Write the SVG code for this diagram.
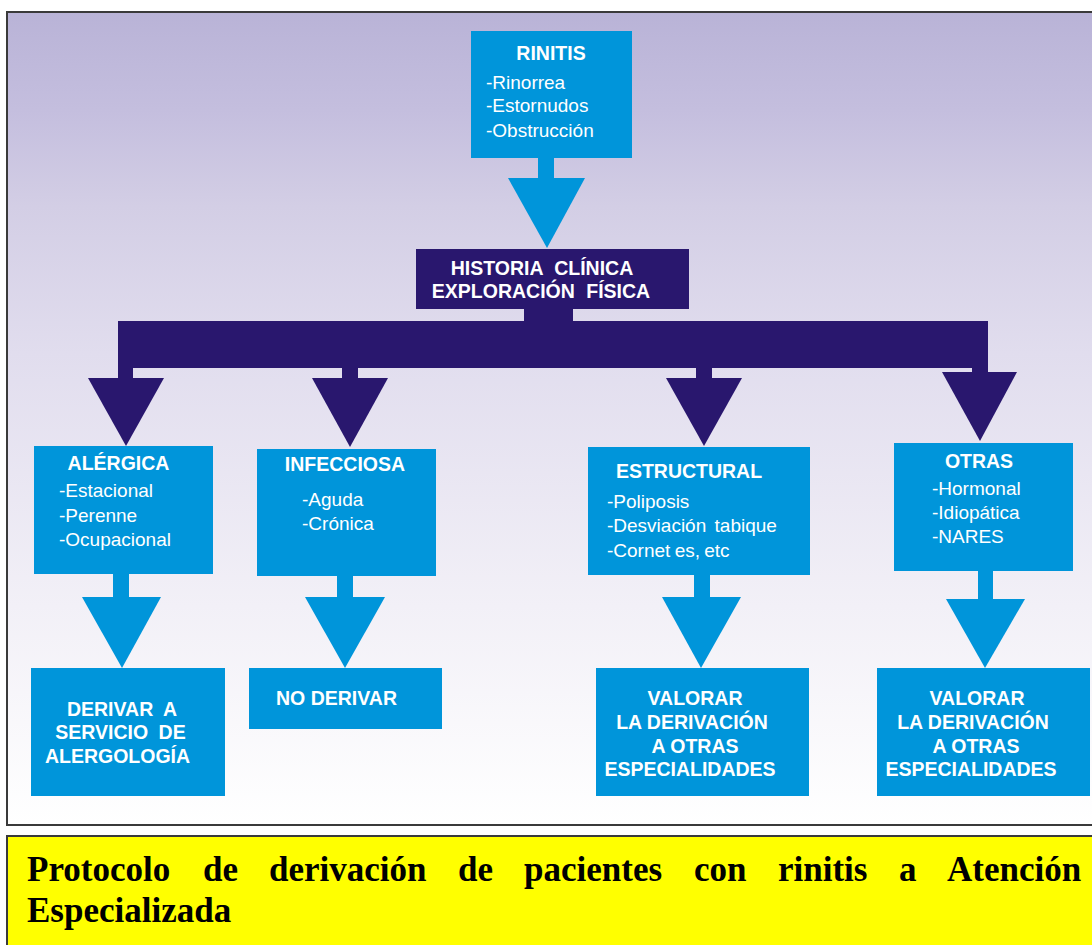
<svg xmlns="http://www.w3.org/2000/svg" width="1092" height="945" viewBox="0 0 1092 945">
<defs>
<linearGradient id="bg" gradientUnits="userSpaceOnUse" x1="0" y1="12" x2="0" y2="825">
<stop offset="0" stop-color="#b9b3d7"/>
<stop offset="0.12" stop-color="#c4bede"/>
<stop offset="0.24" stop-color="#d3cee5"/>
<stop offset="0.42" stop-color="#e1ddee"/>
<stop offset="0.73" stop-color="#f2f0f7"/>
<stop offset="1" stop-color="#ffffff"/>
</linearGradient>
<style>
.lb{fill:#0095da}
.dk{fill:#29176e}
.t{font-family:"Liberation Sans",Arial,sans-serif;font-size:19px;fill:#ffffff}
.b{font-weight:bold;font-size:19.5px}
.m{text-anchor:middle}
.cap{font-family:"Liberation Serif","Times New Roman",serif;font-size:35px;font-weight:bold;fill:#000000}
</style>
</defs>
<rect x="0" y="0" width="1092" height="945" fill="#ffffff"/>
<rect x="7" y="12" width="1100" height="813" fill="url(#bg)" stroke="#3a3a3a" stroke-width="2"/>
<rect x="7" y="836" width="1100" height="120" fill="#ffff00" stroke="#3a3a3a" stroke-width="2"/>

<g id="connectors">
<rect class="lb" x="538" y="157" width="16" height="22"/>
<polygon class="lb" points="508,178 585,178 547,248"/>
<rect class="dk" x="524" y="308" width="49" height="14"/>
<rect class="dk" x="118" y="321" width="870" height="47"/>
<rect class="dk" x="118" y="366" width="15" height="13"/>
<polygon class="dk" points="88,378 164,378 126,446"/>
<rect class="dk" x="342" y="366" width="16" height="13"/>
<polygon class="dk" points="312,378 388,378 350,447"/>
<rect class="dk" x="696" y="366" width="16" height="13"/>
<polygon class="dk" points="666,378 742,378 704,446"/>
<rect class="dk" x="972" y="366" width="16" height="7"/>
<polygon class="dk" points="942,372 1017,372 980,441"/>
<rect class="lb" x="113" y="573" width="16" height="25"/>
<polygon class="lb" points="82,597 161,597 122,668"/>
<rect class="lb" x="337" y="575" width="16" height="23"/>
<polygon class="lb" points="305,597 385,597 345,668"/>
<rect class="lb" x="694" y="574" width="16" height="24"/>
<polygon class="lb" points="662,597 741,597 701,668"/>
<rect class="lb" x="978" y="570" width="15" height="30"/>
<polygon class="lb" points="946,599 1025,599 985,668"/>
</g>

<g id="rinitis">
<rect class="lb" x="471" y="31" width="161" height="127"/>
<text class="t b m" x="551" y="60">RINITIS</text>
<text class="t" x="486" y="89">-Rinorrea</text>
<text class="t" x="486" y="112">-Estornudos</text>
<text class="t" x="486" y="137">-Obstrucción</text>
</g>

<g id="historia">
<rect class="dk" x="416" y="249" width="273" height="60"/>
<text class="t b m" x="542" y="275" word-spacing="6">HISTORIA CLÍNICA</text>
<text class="t b m" x="541" y="298" word-spacing="6">EXPLORACIÓN FÍSICA</text>
</g>

<g id="alergica">
<rect class="lb" x="34" y="446" width="179" height="128"/>
<text class="t b m" x="118.5" y="470">ALÉRGICA</text>
<text class="t" x="59" y="497">-Estacional</text>
<text class="t" x="59" y="522">-Perenne</text>
<text class="t" x="59" y="546">-Ocupacional</text>
</g>

<g id="infecciosa">
<rect class="lb" x="257" y="449" width="179" height="127"/>
<text class="t b m" x="345" y="471">INFECCIOSA</text>
<text class="t" x="302" y="506">-Aguda</text>
<text class="t" x="302" y="530">-Crónica</text>
</g>

<g id="estructural">
<rect class="lb" x="588" y="447" width="222" height="128"/>
<text class="t b m" x="689" y="478">ESTRUCTURAL</text>
<text class="t" x="607" y="508">-Poliposis</text>
<text class="t" x="607" y="532" word-spacing="3">-Desviación tabique</text>
<text class="t" x="607" y="557" word-spacing="-1">-Cornet es, etc</text>
</g>

<g id="otras">
<rect class="lb" x="894" y="443" width="179" height="128"/>
<text class="t b m" x="979" y="468">OTRAS</text>
<text class="t" x="932" y="495">-Hormonal</text>
<text class="t" x="932" y="519">-Idiopática</text>
<text class="t" x="932" y="543">-NARES</text>
</g>

<g id="derivar">
<rect class="lb" x="31" y="668" width="194" height="128"/>
<text class="t b m" x="122" y="716" word-spacing="5">DERIVAR A</text>
<text class="t b m" x="120.5" y="739" word-spacing="5">SERVICIO DE</text>
<text class="t b m" x="117.5" y="763">ALERGOLOGÍA</text>
</g>

<g id="no-derivar">
<rect class="lb" x="249" y="668" width="193" height="61"/>
<text class="t b" x="276" y="705">NO DERIVAR</text>
</g>

<g id="valorar-1">
<rect class="lb" x="596" y="668" width="213" height="128"/>
<text class="t b m" x="695" y="705">VALORAR</text>
<text class="t b m" x="692" y="729">LA DERIVACIÓN</text>
<text class="t b m" x="695" y="753">A OTRAS</text>
<text class="t b m" x="690" y="776">ESPECIALIDADES</text>
</g>

<g id="valorar-2">
<rect class="lb" x="877" y="668" width="213" height="128"/>
<text class="t b m" x="977" y="705">VALORAR</text>
<text class="t b m" x="973" y="729">LA DERIVACIÓN</text>
<text class="t b m" x="976" y="753">A OTRAS</text>
<text class="t b m" x="971" y="776">ESPECIALIDADES</text>
</g>

<g id="caption">
<text class="cap" y="881"><tspan x="27">Protocolo</tspan><tspan x="203">de</tspan><tspan x="269">derivación</tspan><tspan x="458">de</tspan><tspan x="524">pacientes</tspan><tspan x="694">con</tspan><tspan x="778">rinitis</tspan><tspan x="899">a</tspan><tspan x="947">Atención</tspan></text>
<text class="cap" x="27" y="922">Especializada</text>
</g>
</svg>
